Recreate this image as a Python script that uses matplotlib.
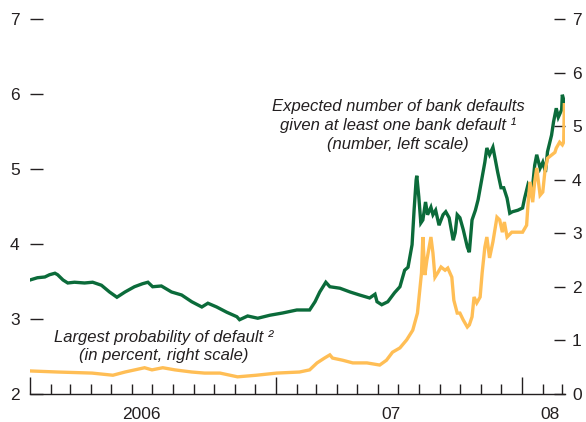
import matplotlib
matplotlib.use('Agg')
import matplotlib.pyplot as plt
import matplotlib.dates as mdates
import pandas as pd

plt.rcParams['font.family'] = ['Liberation Sans', 'DejaVu Sans']

# Expected number of bank defaults given at least one bank default (left scale)
green_dates = [
    '2006-01-01', '2006-01-12', '2006-01-23', '2006-01-30', '2006-02-07', '2006-02-11',
    '2006-02-19', '2006-02-26', '2006-03-08', '2006-03-23', '2006-04-04', '2006-04-17',
    '2006-04-29', '2006-05-10', '2006-05-22', '2006-06-05', '2006-06-17', '2006-06-25',
    '2006-07-02', '2006-07-15', '2006-07-30', '2006-08-14', '2006-08-29', '2006-09-13',
    '2006-09-22', '2006-10-05', '2006-10-20', '2006-11-04', '2006-11-08', '2006-11-20',
    '2006-12-05', '2006-12-23', '2007-01-11', '2007-02-01', '2007-02-20', '2007-02-28',
    '2007-03-07', '2007-03-16', '2007-03-22', '2007-04-06', '2007-04-21', '2007-05-05',
    '2007-05-20', '2007-05-28', '2007-05-31', '2007-06-07', '2007-06-16', '2007-06-26',
    '2007-07-04', '2007-07-11', '2007-07-16', '2007-07-22', '2007-07-25', '2007-07-28',
    '2007-07-29', '2007-08-01', '2007-08-04', '2007-08-07', '2007-08-11', '2007-08-14',
    '2007-08-19', '2007-08-22', '2007-08-26', '2007-08-31', '2007-09-06', '2007-09-10',
    '2007-09-15', '2007-09-21', '2007-09-24', '2007-09-27', '2007-10-01', '2007-10-06',
    '2007-10-12', '2007-10-15', '2007-10-19', '2007-10-24', '2007-10-28', '2007-11-03',
    '2007-11-07', '2007-11-10', '2007-11-14', '2007-11-19', '2007-11-22', '2007-11-26',
    '2007-12-01', '2007-12-05', '2007-12-10', '2007-12-14', '2007-12-18', '2007-12-26',
    '2008-01-02', '2008-01-05', '2008-01-10', '2008-01-16', '2008-01-20', '2008-01-23',
    '2008-01-28', '2008-02-01', '2008-02-05', '2008-02-08', '2008-02-14', '2008-02-17',
    '2008-02-21', '2008-02-24', '2008-02-29', '2008-03-01', '2008-03-04',
]
green_values = [
    3.52, 3.55, 3.56, 3.59, 3.61, 3.59,
    3.52, 3.48, 3.49, 3.48, 3.49, 3.45,
    3.36, 3.29, 3.36, 3.43, 3.47, 3.49,
    3.43, 3.44, 3.36, 3.32, 3.23, 3.16,
    3.21, 3.16, 3.09, 3.03, 2.99, 3.04,
    3.01, 3.05, 3.08, 3.12, 3.12, 3.23,
    3.36, 3.49, 3.43, 3.41, 3.36, 3.32,
    3.28, 3.33, 3.23, 3.19, 3.23, 3.35,
    3.43, 3.65, 3.69, 3.99, 4.45, 4.85,
    4.91, 4.63, 4.28, 4.32, 4.56, 4.39,
    4.49, 4.39, 4.45, 4.25, 4.39, 4.43,
    4.35, 4.05, 4.15, 4.39, 4.35, 4.19,
    3.96, 3.89, 4.32, 4.45, 4.59, 4.89,
    5.09, 5.28, 5.19, 5.29, 5.15, 4.96,
    4.75, 4.75, 4.61, 4.41, 4.43, 4.45,
    4.48, 4.61, 4.79, 4.69, 5.05, 5.19,
    5.01, 5.09, 4.96, 5.23, 5.45, 5.63,
    5.81, 5.69, 5.79, 5.99, 5.89,
]

# Largest probability of default, in percent (right scale)
orange_dates = [
    '2006-01-01', '2006-02-11', '2006-04-03', '2006-05-04', '2006-05-22', '2006-06-20',
    '2006-07-01', '2006-07-17', '2006-08-04', '2006-08-29', '2006-09-17', '2006-10-10',
    '2006-11-05', '2006-12-03', '2007-01-02', '2007-02-05', '2007-02-20', '2007-03-03',
    '2007-03-14', '2007-03-22', '2007-03-26', '2007-04-10', '2007-04-25', '2007-05-16',
    '2007-06-04', '2007-06-14', '2007-06-23', '2007-07-04', '2007-07-14', '2007-07-23',
    '2007-07-30', '2007-08-05', '2007-08-07', '2007-08-10', '2007-08-13', '2007-08-19',
    '2007-08-22', '2007-08-25', '2007-08-29', '2007-09-03', '2007-09-09', '2007-09-13',
    '2007-09-19', '2007-09-22', '2007-09-27', '2007-10-01', '2007-10-06', '2007-10-12',
    '2007-10-15', '2007-10-19', '2007-10-22', '2007-10-26', '2007-10-31', '2007-11-03',
    '2007-11-07', '2007-11-10', '2007-11-14', '2007-11-19', '2007-11-25', '2007-11-29',
    '2007-12-03', '2007-12-06', '2007-12-10', '2007-12-17', '2007-12-26', '2008-01-02',
    '2008-01-08', '2008-01-10', '2008-01-13', '2008-01-17', '2008-01-20', '2008-01-23',
    '2008-01-28', '2008-02-01', '2008-02-04', '2008-02-08', '2008-02-14', '2008-02-19',
    '2008-02-21', '2008-02-26', '2008-03-01', '2008-03-03', '2008-03-04',
]
orange_values = [
    0.43, 0.41, 0.39, 0.35, 0.41, 0.49,
    0.45, 0.49, 0.45, 0.41, 0.39, 0.39,
    0.32, 0.35, 0.39, 0.41, 0.45, 0.58,
    0.67, 0.73, 0.67, 0.63, 0.58, 0.58,
    0.54, 0.63, 0.78, 0.86, 1.01, 1.19,
    1.51, 2.26, 2.93, 2.22, 2.50, 2.93,
    2.63, 2.18, 2.26, 2.37, 2.31, 2.35,
    2.18, 1.75, 1.51, 1.51, 1.38, 1.25,
    1.29, 1.44, 1.81, 1.70, 1.81, 2.26,
    2.74, 2.93, 2.54, 2.84, 3.30, 3.25,
    3.02, 3.21, 2.93, 3.02, 3.02, 3.02,
    3.15, 3.53, 3.96, 3.58, 3.96, 4.22,
    3.71, 3.77, 4.14, 4.40, 4.46, 4.51,
    4.59, 4.70, 4.65, 4.70, 5.40,
]

left_ticks = [2, 3, 4, 5, 6, 7]
right_ticks = [0, 1, 2, 3, 4, 5, 6, 7]
year_labels = ['2006', '07', '08']
year_label_dates = ['2006-06-16', '2007-06-20', '2008-02-12']

green_color = '#0b6b3a'
orange_color = '#ffbe55'
text_color = '#231f20'

fig = plt.figure(figsize=(5.86, 4.22), dpi=100)
ax = fig.add_axes([0.0512, 0.0664, 0.9130, 0.8886])
ax2 = ax.twinx()

ax.plot(pd.to_datetime(green_dates), green_values, color=green_color, lw=2.4,
        solid_joinstyle='miter')
ax2.plot(pd.to_datetime(orange_dates), orange_values, color=orange_color, lw=2.4,
         solid_joinstyle='miter')

ax.set_xlim(pd.Timestamp('2006-01-01'), pd.Timestamp('2008-03-05'))
ax.set_ylim(2, 7)
ax2.set_ylim(0, 7)

for s in ['top', 'left', 'right']:
    ax.spines[s].set_visible(False)
for s in ax2.spines.values():
    s.set_visible(False)
ax.spines['bottom'].set_linewidth(1.0)
ax.spines['bottom'].set_color(text_color)

ax.set_yticks(left_ticks)
ax.set_yticklabels([str(t) for t in left_ticks])
ax2.set_yticks(right_ticks)
ax2.set_yticklabels([str(t) for t in right_ticks])
ax.tick_params(axis='y', direction='in', length=9.4, width=1.0, pad=7.5,
               labelsize=12.5, colors=text_color)
ax2.tick_params(axis='y', direction='in', length=8, width=1.0, pad=5,
                labelsize=12.5, colors=text_color)

ax.xaxis.set_major_locator(mdates.YearLocator())
ax.xaxis.set_minor_locator(mdates.MonthLocator())
ax.xaxis.set_major_formatter(plt.NullFormatter())
ax.tick_params(axis='x', which='major', direction='in', length=12.5, width=1.0,
               color=text_color)
ax.tick_params(axis='x', which='minor', direction='in', length=7.2, width=1.0,
               color=text_color)

for lab, d in zip(year_labels, year_label_dates):
    ax.text(pd.Timestamp(d), -0.035, lab, transform=ax.get_xaxis_transform(),
            ha='center', va='top', fontsize=12.5, color=text_color)

# annotations
upper = ['Expected number of bank defaults',
         'given at least one bank default \u00b9',
         '(number, left scale)']
for i, line in enumerate(upper):
    fig.text(398 / 586, 1 - (110.7 + 19.4 * i) / 422, line, ha='center', va='baseline',
             fontsize=12, style='italic', color=text_color)

lower = ['Largest probability of default \u00b2',
         '(in percent, right scale)']
for i, line in enumerate(lower):
    fig.text(164 / 586, 1 - (341.7 + 18.5 * i) / 422, line, ha='center', va='baseline',
             fontsize=12, style='italic', color=text_color)

fig.savefig('out.png', dpi=100)
